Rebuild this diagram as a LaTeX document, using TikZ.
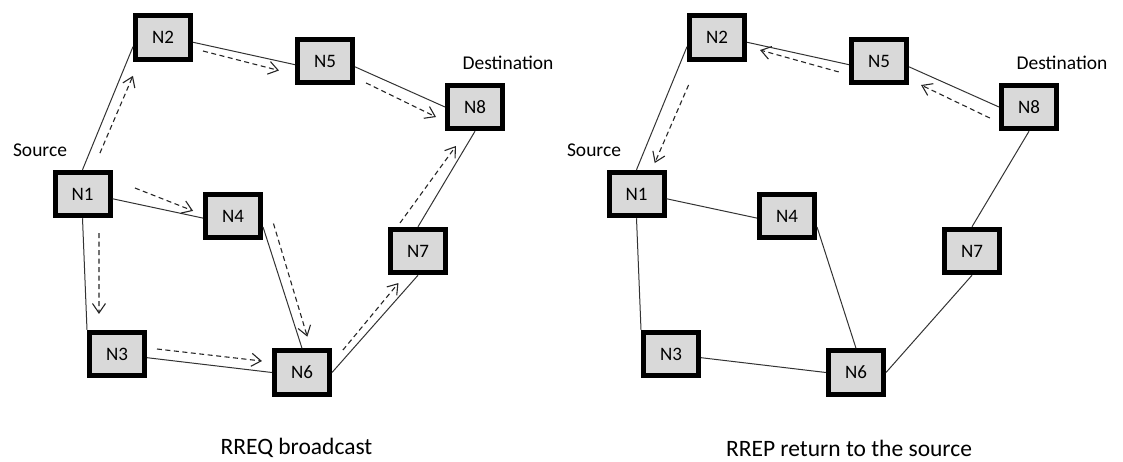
\documentclass[tikz,border=0pt]{standalone}
\usepackage{fontspec}
\setmainfont{Carlito}
\usetikzlibrary{arrows.meta,calc}

\tikzset{
  nbox/.style={draw=black, line width=5pt, fill=black!15, minimum width=55pt,
    minimum height=43.5pt, inner sep=0pt, font=\fontsize{19}{22}\selectfont},
  link/.style={draw=black!80, line width=1pt},
  req/.style={draw=black!85, line width=1.1pt, dash pattern=on 5pt off 3.5pt,
    -{Straight Barb[length=9.5pt,width=13pt,line width=1.1pt]}},
  lbl/.style={inner sep=0pt, font=\fontsize{19.5}{22}\selectfont},
  captext/.style={inner sep=0pt, font=\fontsize{23.5}{27}\selectfont}
}

% one dashed message arrow running beside the link #1--#2:
% #3 gap after #1, #4 side offset there, #5 gap before #2, #6 side offset there
\newcommand\flow[6]{%
  \draw[req] ($(#1)!#3!(#2)!#4!-90:(#2)$) -- ($(#2)!#5!(#1)!#6!90:(#1)$);}

% eight nodes and their links; #1 name prefix, #2 horizontal offset
\newcommand\network[2]{%
  \begin{scope}[xshift=#2]
    \node[nbox] (#1N1) at (82.5,194) {N1};
    \node[nbox] (#1N2) at (163,37.5) {N2};
    \node[nbox] (#1N3) at (117,354) {N3};
    \node[nbox] (#1N4) at (233,216) {N4};
    \node[nbox] (#1N5) at (325,61) {N5};
    \node[nbox] (#1N6) at (302,372.5) {N6};
    \node[nbox] (#1N7) at (418,251) {N7};
    \node[nbox] (#1N8) at (475,107) {N8};
  \end{scope}
  \draw[link] (#1N1.north) -- (#1N2.197);
  \draw[link] (#1N2.-9) -- (#1N5.187);
  \draw[link] (#1N5.-11) -- (#1N8.west);
  \draw[link] (#1N8.south) -- (#1N7.north);
  \draw[link] (#1N7.south) -- (#1N6.east);
  \draw[link] (#1N4.-20) -- (#1N6.north);
  \draw[link] (#1N1.-9) -- (#1N4.184);
  \draw[link] (#1N1.south) -- (#1N3.north west);
  \draw[link] (#1N3.-7) -- (#1N6.west);
}

\begin{document}
\begin{tikzpicture}[x=1pt, y=-1pt]
  \useasboundingbox (0,0) rectangle (1123,461);

  % route request flooding
  \network{a}{0pt}
  \node[lbl] (asrc) at (40,150) {Source};
  \node[lbl] (adst) at (508,63) {Destination};
  \node[captext] (acap) at (296.5,448) {RREQ broadcast};

  \flow{aN1.north}{aN2.197}{22pt}{9.8pt}{27pt}{11pt}
  \flow{aN2.-9}{aN5.187}{11.7pt}{6.4pt}{14.4pt}{9.1pt}
  \flow{aN5.-11}{aN8.west}{16.7pt}{10.2pt}{4.1pt}{12.8pt}
  \flow{aN1.-9}{aN4.184}{19.7pt}{-15.2pt}{11.2pt}{-5pt}
  \flow{aN4.-20}{aN6.north}{0pt}{-11pt}{9.4pt}{-8.6pt}
  \flow{aN1.south}{aN3.north west}{15.4pt}{-15.9pt}{15.3pt}{-12.6pt}
  \flow{aN3.-7}{aN6.west}{8.9pt}{-9.8pt}{11.3pt}{-10.2pt}
  \flow{aN6.east}{aN7.south}{24pt}{-6.7pt}{18.8pt}{-9.5pt}
  \flow{aN7.north}{aN8.south}{-6pt}{-17.4pt}{22.4pt}{-8.8pt}

  % route reply back to the source
  \network{b}{554pt}
  \node[lbl] (bsrc) at (594,150) {Source};
  \node[lbl] (bdst) at (1062,63) {Destination};
  \node[captext] (bcap) at (849,448) {RREP return to the source};

  \flow{bN8.west}{bN5.-11}{3.9pt}{-13.8pt}{18.4pt}{-11.7pt}
  \flow{bN5.187}{bN2.-9}{8.5pt}{-9.3pt}{14.4pt}{-4.8pt}
  \flow{bN2.197}{bN1.north}{34.8pt}{-16pt}{13.1pt}{-14.3pt}
\end{tikzpicture}
\end{document}
